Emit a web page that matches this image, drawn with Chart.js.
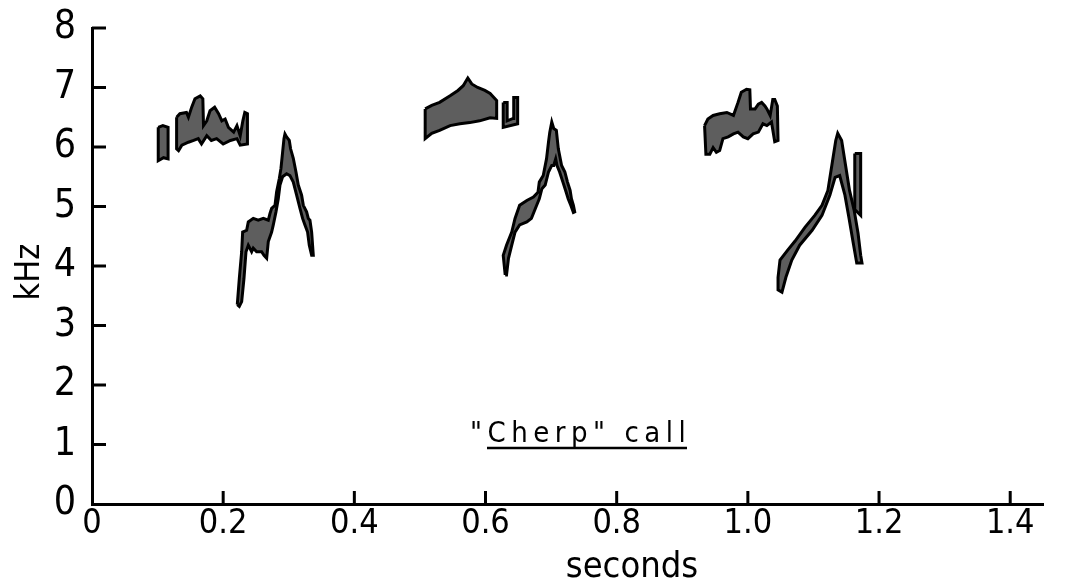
<!DOCTYPE html>
<html lang="en">
<head>
<meta charset="UTF-8">
<title>"Cherp" call</title>
<script src="https://cdn.jsdelivr.net/npm/chart.js"></script>
<style>
  html, body { margin: 0; padding: 0; background: #fff; }
  #wrap { width: 1074px; height: 581px; }
</style>
</head>
<body>
<div id="wrap"><canvas id="sonagram"></canvas></div>
<script>
// traced outlines of the sonagram traces, [seconds, kHz]
const call1Bar = [[0.101,6.33],[0.108,6.36],[0.116,6.33],[0.116,5.80],[0.109,5.82],[0.101,5.77]];
const call1High = [
  [0.129,6.50],[0.134,6.56],[0.144,6.58],[0.147,6.50],[0.152,6.67],[0.157,6.81],[0.165,6.86],[0.169,6.81],
  [0.170,6.36],[0.175,6.44],[0.180,6.61],[0.187,6.67],[0.193,6.56],[0.198,6.44],[0.203,6.47],[0.208,6.33],
  [0.216,6.25],[0.221,6.36],[0.226,6.19],[0.230,6.44],[0.233,6.58],[0.237,6.56],
  [0.237,6.05],[0.226,6.03],[0.221,6.14],[0.211,6.11],[0.200,6.05],[0.190,6.14],[0.182,6.11],[0.175,6.19],
  [0.167,6.05],[0.162,6.14],[0.155,6.11],[0.147,6.08],[0.137,6.03],[0.132,5.94],[0.129,5.97]
];
const call1Low = [
  [0.2215,3.35],[0.2246,3.79],[0.2282,4.24],[0.2297,4.57],[0.2358,4.60],[0.2383,4.74],[0.2459,4.80],[0.2535,4.77],
  [0.2612,4.80],[0.2688,4.77],[0.2713,4.88],[0.2739,4.97],[0.2790,5.02],[0.2815,5.25],[0.2856,5.47],[0.2881,5.64],
  [0.2906,5.91],[0.2927,6.14],[0.2942,6.22],[0.2967,6.17],[0.3008,6.11],[0.3028,5.97],[0.3069,5.81],[0.3110,5.58],
  [0.3145,5.36],[0.3196,5.19],[0.3222,5.02],[0.3272,4.91],[0.3298,4.80],[0.3323,4.77],[0.3349,4.57],[0.3374,4.18],
  [0.3349,4.18],[0.3313,4.35],[0.3287,4.57],[0.3247,4.69],[0.3211,4.80],[0.3171,4.97],[0.3120,5.19],[0.3069,5.41],
  [0.3018,5.52],[0.2967,5.55],[0.2906,5.50],[0.2866,5.36],[0.2840,5.13],[0.2805,4.91],[0.2764,4.69],[0.2739,4.57],
  [0.2688,4.41],[0.2663,4.13],[0.2622,4.18],[0.2586,4.24],[0.2510,4.24],[0.2459,4.30],[0.2434,4.24],[0.2383,4.35],
  [0.2348,4.24],[0.2317,3.79],[0.2282,3.40],[0.2246,3.32]
];
const call2High = [
  [0.508,6.64],[0.518,6.70],[0.530,6.75],[0.546,6.86],[0.558,6.95],[0.566,7.03],[0.573,7.16],[0.579,7.06],
  [0.588,7.00],[0.599,6.95],[0.607,6.90],[0.617,6.78],
  [0.617,6.48],[0.607,6.49],[0.591,6.44],[0.576,6.41],[0.561,6.39],[0.546,6.36],[0.530,6.28],[0.518,6.23],[0.508,6.14]
];
const call2Tail = [[0.627,6.75],[0.633,6.75],[0.633,6.44],[0.642,6.48],[0.643,6.83],[0.649,6.83],[0.649,6.39],[0.627,6.33]];
const call2Low = [
  [0.630,3.85],[0.627,4.18],[0.632,4.35],[0.640,4.57],[0.645,4.80],[0.652,5.02],[0.663,5.10],[0.673,5.16],
  [0.680,5.24],[0.682,5.41],[0.688,5.52],[0.693,5.80],[0.696,6.08],[0.698,6.25],[0.701,6.42],[0.704,6.31],
  [0.708,6.28],[0.711,5.97],[0.716,5.69],[0.721,5.58],[0.725,5.41],[0.729,5.27],[0.731,5.13],[0.734,5.02],[0.736,4.91],
  [0.734,4.90],[0.730,5.02],[0.726,5.13],[0.723,5.24],[0.718,5.41],[0.713,5.58],[0.709,5.69],[0.707,5.80],
  [0.704,5.69],[0.701,5.69],[0.696,5.58],[0.691,5.36],[0.686,5.30],[0.682,5.13],[0.678,5.02],[0.670,4.80],
  [0.663,4.74],[0.652,4.69],[0.645,4.57],[0.640,4.35],[0.635,4.13],[0.632,3.85]
];
const call3High = [
  [0.934,6.36],[0.939,6.47],[0.947,6.53],[0.957,6.56],[0.968,6.58],[0.978,6.53],[0.985,6.75],[0.990,6.92],
  [0.998,6.97],[1.003,6.96],[1.004,6.64],[1.011,6.64],[1.016,6.72],[1.021,6.75],[1.026,6.69],[1.029,6.64],
  [1.034,6.53],[1.038,6.80],[1.041,6.80],[1.045,6.69],[1.046,6.11],
  [1.041,6.09],[1.036,6.42],[1.029,6.36],[1.023,6.39],[1.016,6.25],[1.008,6.22],[1.000,6.14],[0.993,6.17],
  [0.985,6.25],[0.978,6.22],[0.970,6.17],[0.962,6.14],[0.957,5.94],[0.952,5.91],[0.947,5.99],[0.942,5.88],[0.936,5.88]
];
const call3Low = [
  [1.046,3.81],[1.049,4.10],[1.061,4.27],[1.072,4.42],[1.087,4.65],[1.102,4.85],[1.113,5.02],[1.122,5.27],
  [1.128,5.69],[1.134,6.11],[1.137,6.23],[1.143,6.11],[1.149,5.69],[1.155,5.27],[1.162,4.94],[1.168,4.55],
  [1.172,4.18],[1.174,4.05],
  [1.166,4.05],[1.160,4.43],[1.154,4.82],[1.148,5.19],[1.140,5.52],[1.133,5.49],[1.125,5.19],[1.113,4.85],
  [1.098,4.60],[1.079,4.35],[1.067,4.10],[1.058,3.81],[1.052,3.56],[1.046,3.60]
];
const call3Spur = [[1.163,5.89],[1.172,5.89],[1.172,4.85],[1.163,4.95]];

const xTickLabels = ['0', '0.2', '0.4', '0.6', '0.8', '1.0', '1.2', '1.4'];
const yTickLabels = ['0', '1', '2', '3', '4', '5', '6', '7', '8'];

const traces = [call1Bar, call1High, call1Low, call2High, call2Tail, call2Low, call3High, call3Low, call3Spur];

const FONT = '"Liberation Sans Narrow", "DejaVu Sans Condensed", "DejaVu Sans", sans-serif';

function outline(arr) {
  // close the shape by repeating the first point
  return arr.concat([arr[0]]).map(p => ({x: p[0], y: p[1]}));
}

// inner tick marks and the hand lettering
const lettering = {
  id: 'lettering',
  afterDraw(chart) {
    const {ctx, chartArea: a, scales: {x, y}} = chart;
    ctx.save();
    ctx.strokeStyle = '#000';
    ctx.lineWidth = 3;
    x.ticks.forEach(t => {
      if (t.value === 0) return;
      const px = x.getPixelForValue(t.value);
      ctx.beginPath();
      ctx.moveTo(px, a.bottom);
      ctx.lineTo(px, a.bottom - 13);
      ctx.stroke();
    });
    y.ticks.forEach(t => {
      if (t.value === 0) return;
      const py = y.getPixelForValue(t.value);
      ctx.beginPath();
      ctx.moveTo(a.left, py);
      ctx.lineTo(a.left + 14, py);
      ctx.stroke();
    });

    ctx.fillStyle = '#000';
    // y title
    ctx.save();
    ctx.translate(30, 272);
    ctx.rotate(-Math.PI / 2);
    ctx.textAlign = 'center';
    ctx.textBaseline = 'middle';
    ctx.font = '34px ' + FONT;
    ctx.fillText('kHz', 0, 0);
    ctx.restore();
    // x title
    ctx.textAlign = 'center';
    ctx.textBaseline = 'alphabetic';
    ctx.font = '36px ' + FONT;
    ctx.fillText('seconds', 632, 577);
    // caption
    ctx.textAlign = 'left';
    ctx.font = '29px ' + FONT;
    ctx.letterSpacing = '5.5px';
    ctx.fillText('"Cherp" call', 470, 442);
    ctx.letterSpacing = '0px';
    ctx.lineWidth = 2.5;
    ctx.beginPath();
    ctx.moveTo(487, 448);
    ctx.lineTo(687, 448);
    ctx.stroke();
    ctx.restore();
  }
};

const ctx = document.getElementById('sonagram').getContext('2d');
const chart = new Chart(ctx, {
  type: 'scatter',
  data: {
    datasets: traces.map(t => ({
      data: outline(t),
      showLine: true,
      fill: 'shape',
      backgroundColor: '#5e5e5e',
      borderColor: '#000',
      borderWidth: 3,
      pointRadius: 0,
      tension: 0
    }))
  },
  options: {
    responsive: true,
    maintainAspectRatio: false,
    animation: false,
    layout: { padding: { top: 28, right: 31, left: 0, bottom: 0 } },
    plugins: { legend: { display: false }, tooltip: { enabled: false } },
    scales: {
      x: {
        type: 'linear',
        min: 0,
        max: 1.45,
        afterFit: s => { s.height = 77; s.paddingLeft = 0; s.paddingRight = 0; },
        border: { display: true, color: '#000', width: 3 },
        grid: { drawOnChartArea: false, drawTicks: false },
        ticks: {
          stepSize: 0.2,
          includeBounds: false,
          autoSkip: false,
          maxRotation: 0,
          padding: 0,
          color: '#000',
          font: { size: 34, family: FONT },
          callback: (v, i) => xTickLabels[i]
        }
      },
      y: {
        min: 0,
        max: 8,
        afterFit: s => { s.width = 92; s.paddingTop = 0; s.paddingBottom = 0; },
        border: { display: true, color: '#000', width: 3 },
        grid: { drawOnChartArea: false, drawTicks: false },
        ticks: {
          stepSize: 1,
          padding: 16,
          color: '#000',
          font: { size: 39, family: FONT },
          callback: (v, i) => yTickLabels[i]
        }
      }
    }
  },
  plugins: [lettering]
});
</script>
</body>
</html>
